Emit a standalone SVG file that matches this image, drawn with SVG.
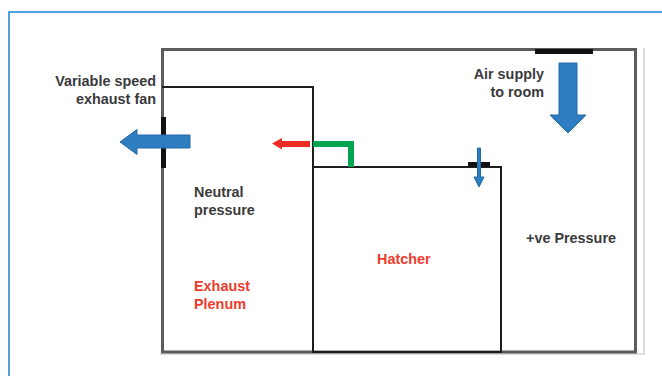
<svg xmlns="http://www.w3.org/2000/svg" width="662" height="376" viewBox="0 0 662 376">
<defs>
<style>
.t{font-family:"Liberation Sans",Arial,sans-serif;font-size:14.4px;font-weight:bold;fill:#3a3a3a}
.r{fill:#EE3B2C}
.wall{fill:none;stroke:#5c5c5c;stroke-width:3}
.inner{fill:none;stroke:#1e1e1e;stroke-width:2}
.blue{fill:#2E7DC0;stroke:#246AA8;stroke-width:1}
.bar{fill:#111}
</style>
</defs>
<rect width="662" height="376" fill="#fff"/>
<path d="M9,376 V12 H662" fill="none" stroke="#4BA3DC" stroke-width="2"/>
<g id="room">
<path d="M644,48 V354 H160" fill="none" stroke="#d4d4d4" stroke-width="1.5"/>
<rect class="wall" x="162.5" y="49.5" width="473" height="302.5"/>
</g>
<g id="plenum">
<path class="inner" d="M162,87 H313 V352"/>
<text class="t" x="194" y="197">Neutral</text>
<text class="t" x="194" y="215">pressure</text>
<text class="t r" x="194" y="291">Exhaust</text>
<text class="t r" x="194" y="309">Plenum</text>
</g>
<g id="hatcher">
<path class="inner" d="M313,352 V167 H501 V352 Z"/>
<text class="t r" x="377" y="264">Hatcher</text>
</g>
<g id="positive-room">
<text class="t" x="526" y="243">+ve Pressure</text>
</g>
<g id="fan">
<rect class="bar" x="161" y="117" width="5" height="51"/>
<text class="t" x="156" y="86" text-anchor="end">Variable speed</text>
<text class="t" x="156" y="104" text-anchor="end">exhaust fan</text>
</g>
<g id="air-supply">
<rect class="bar" x="535" y="49" width="58" height="5"/>
<text class="t" x="544" y="79" text-anchor="end">Air supply</text>
<text class="t" x="544" y="97" text-anchor="end">to room</text>
</g>
<g id="hatcher-vent">
<rect class="bar" x="468" y="162" width="22" height="5"/>
</g>
<g id="connectors">
<polygon class="blue" points="120,142 137,129.5 137,135 190,135 190,148 137,148 137,154.5"/>
<polygon class="blue" points="559,63 577,63 577,115 586,115 568,133 550,115 559,115"/>
<polygon class="blue" points="477.5,148 480.5,148 480.5,177 484,177 479,187 474,177 477.5,177"/>
<polygon points="272,143.5 282,138 282,141 310,141 310,147 282,147 282,149.5" fill="#EE2E24"/>
<path d="M313,144 H351 V167" fill="none" stroke="#00A651" stroke-width="6"/>
</g>
</svg>
